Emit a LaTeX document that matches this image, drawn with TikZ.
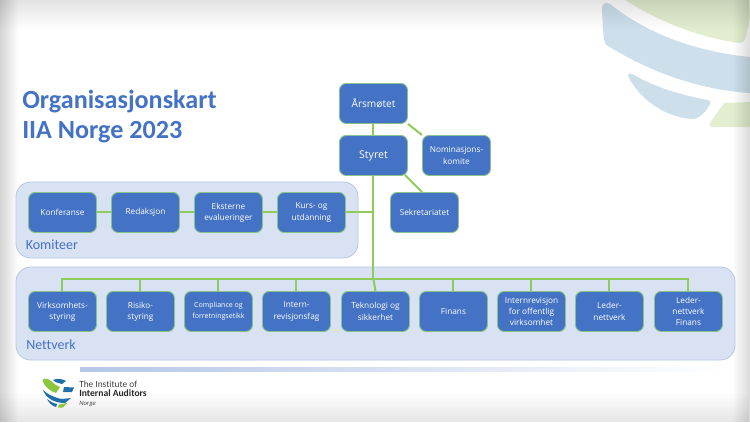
\documentclass[tikz,border=0pt]{standalone}
\usepackage{fontspec}
\setmainfont[Ligatures=NoCommon]{Carlito}
\newfontfamily\boxfont{Open Sans}
\usetikzlibrary{calc,shadings,fadings}
\definecolor{iiablue}{HTML}{4472C4}
\definecolor{iiagreen}{HTML}{8FCB5C}
\definecolor{boxedge}{HTML}{86C48A}
\definecolor{panelfill}{HTML}{D9E2F3}
\definecolor{paneledge}{HTML}{B4C7E7}
\definecolor{palegreen}{HTML}{E3EED0}
\definecolor{paleblue}{HTML}{CCDFEA}
\definecolor{logoblue}{HTML}{1F6FA8}
\definecolor{logogreen}{HTML}{8CC63F}
\pgfdeclarelayer{backdrop}
\pgfdeclarelayer{under}
\pgfsetlayers{backdrop,under,main}
\tikzset{
  x=0.75pt,y=-0.75pt,
  orgbox/.style={draw=boxedge,line width=0.7pt,fill=iiablue,rounded corners=5pt,
    minimum width=51pt,minimum height=30pt,inner sep=0pt,text=white,align=center,
    font=\boxfont\fontsize{6.2}{8.4}\selectfont,anchor=north west},
  panel/.style={draw=paneledge,line width=0.6pt,fill=panelfill,rounded corners=11pt},
  link/.style={draw=iiagreen,line width=1.5pt},
  paneltitle/.style={text=iiablue,font=\fontsize{10.5}{12}\selectfont,inner sep=0pt,anchor=west},
}
\begin{document}
\begin{tikzpicture}
\useasboundingbox (0,0) rectangle (750,422);
\begin{pgfonlayer}{backdrop}
\fill[white] (0,0) rectangle (750,422);
% corner artwork
\fill[palegreen] (625,0) .. controls (660,22) and (700,38) .. (740,43) .. controls (745,43) and (746,38) .. (750,17) -- (750,0) -- cycle;
\fill[paleblue] (602,7) .. controls (603,3) and (607,2) .. (610,4) .. controls (650,36) and (700,52) .. (750,57) -- (750,93) .. controls (700,90) and (650,72) .. (608,46) .. controls (604,44) and (603,40) .. (602,7) -- cycle;
\fill[paleblue] (628,76) .. controls (628,73) and (631,73) .. (634,75) .. controls (655,87) and (680,95) .. (708,100) .. controls (711,101) and (711,103) .. (709,106) .. controls (705,112) and (700,119) .. (692,119) .. controls (665,117) and (640,100) .. (628,76) -- cycle;
\fill[palegreen] (724,103) -- (750,102) -- (750,127) -- (712,127) .. controls (708,127) and (710,122) .. (712,120) -- cycle;
% soft page edges
\fill[black,opacity=0.17,path fading=east] (0,0) rectangle (18,422);
\fill[black,opacity=0.11,path fading=south] (0,0) rectangle (750,30);
\fill[black,opacity=0.10,path fading=north] (0,392) rectangle (750,422);
\fill[black,opacity=0.14,path fading=west] (732,0) rectangle (750,422);
% footer rule
\shade[left color=paneledge,right color=white] (80,367.5) rectangle (725,371);
\end{pgfonlayer}

% title
\node[text=iiablue,font=\bfseries\fontsize{19.6}{22.5}\selectfont,align=left,anchor=north west,inner sep=0pt] (title) at (22,90) {Organisasjonskart\\IIA Norge 2023};

% top boxes
\node[orgbox,font=\boxfont\fontsize{7.6}{9}\selectfont] (aars) at (339,83) {Årsmøtet};
\node[orgbox,font=\boxfont\fontsize{8}{9}\selectfont] (styret) at (339,135) {Styret};
\node[orgbox] (nomin) at (422,135) {Nominasjons-\\komite};
\node[orgbox] (sekr) at (390,192) {Sekretariatet};

% committees
\node[orgbox] (konf) at (28,192) {Konferanse};
\node[orgbox] (reda) at (111,192) {Redaksjon};
\node[orgbox] (ekst) at (194,192) {Eksterne\\evalueringer};
\node[orgbox] (kurs) at (277,192) {Kurs- og\\utdanning};

% networks
\node[orgbox] (virk) at (28,291) {Virksomhets-\\styring};
\node[orgbox] (risk) at (106,291) {Risiko-\\styring};
\node[orgbox,font=\boxfont\fontsize{5.3}{8.2}\selectfont] (comp) at (184,291) {Compliance og\\forretningsetikk};
\node[orgbox] (revi) at (262,291) {Intern-\\revisjonsfag};
\node[orgbox] (tekn) at (341,291) {Teknologi og\\sikkerhet};
\node[orgbox] (fina) at (419,291) {Finans};
\node[orgbox] (offe) at (497,291) {Internrevisjon\\for offentlig\\virksomhet};
\node[orgbox] (lede) at (575,291) {Leder-\\nettverk};
\node[orgbox] (ledf) at (654,291) {Leder-\\nettverk\\Finans};

\node[paneltitle] (kom) at (25.5,244.5) {Komiteer};
\node[paneltitle] (net) at (26,345) {Nettverk};

\begin{pgfonlayer}{under}
  \draw[panel] (16,182) rectangle (358,258);
  \draw[panel] (16,267) rectangle (735,360);
  \coordinate (bus) at (375,279);
  \draw[link] (aars.south) -- (styret.north);
  \draw[link] (aars.south east) -- (nomin.north west);
  \draw[link] ($(styret.south east)+(-3,-1)$) -- ($(sekr.north west)+(32,0)$);
  \draw[link] (styret.south) -- (styret.south |- bus);
  \draw[link] (styret.south |- bus) -- (tekn.north);
  \draw[link] (konf.east) -- (reda.west);
  \draw[link] (reda.east) -- (ekst.west);
  \draw[link] (ekst.east) -- (kurs.west);
  \draw[link] (kurs.east) -- (kurs.east -| styret.south);
  \draw[link,line cap=rect] (virk.north |- bus) -- (ledf.north |- bus);
  \foreach \n in {virk,risk,comp,revi,fina,offe,lede,ledf}
    \draw[link] (\n.north) -- (\n.north |- bus);
\end{pgfonlayer}

% logo
\fill[logogreen] (42.5,381) .. controls (43,378) and (46,378) .. (48,379) .. controls (52,381) and (54,385) .. (60,387) -- (56,393) .. controls (50,391) and (45,387) .. (42.5,381) -- cycle;
\fill[logoblue] (53,380) .. controls (57,378) and (63,379) .. (66,381) -- (62,384) .. controls (59,383) and (56,383) .. (53,380) -- cycle;
\fill[logoblue] (64,387) -- (74,387.5) -- (72,392) -- (63,392) -- cycle;
\fill[logoblue] (43,390) .. controls (47,394) and (55,398) .. (62,399) -- (71,398) -- (65,403) .. controls (54,403) and (46,398) .. (43,390) -- cycle;
\fill[logoblue] (47,399) .. controls (51,402) and (53,403) .. (57,404) -- (56,407) .. controls (52,406) and (49,403) .. (47,399) -- cycle;
\fill[logogreen] (59,404.5) -- (67,403) -- (63,407.5) -- (58,407.5) -- cycle;
\node[anchor=west,inner sep=0pt,text=black!75,font=\fontsize{7}{8}\selectfont] (l1) at (79,384) {The Institute of};
\node[anchor=west,inner sep=0pt,text=black!85,font=\bfseries\fontsize{7.2}{8}\selectfont] (l2) at (79,393) {Internal Auditors};
\node[anchor=west,inner sep=0pt,text=black!70,font=\itshape\fontsize{5}{6}\selectfont] (l3) at (79,404) {Norge};
\end{tikzpicture}
\end{document}
